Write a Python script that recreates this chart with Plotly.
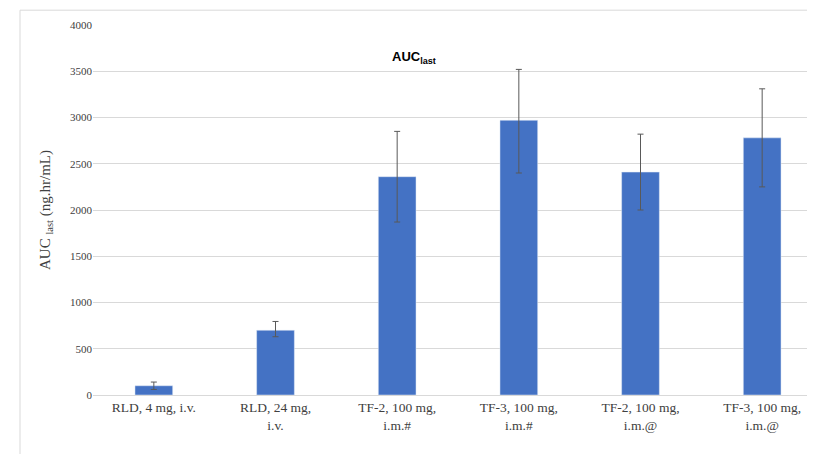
import plotly.graph_objects as go

groups = ["RLD, 4 mg, i.v.", "RLD, 24 mg,<br>i.v.", "TF-2, 100 mg,<br>i.m.#",
          "TF-3, 100 mg,<br>i.m.#", "TF-2, 100 mg,<br>i.m.@", "TF-3, 100 mg,<br>i.m.@"]
auc_last = [100, 700, 2360, 2970, 2410, 2780]
err_plus = [40, 95, 490, 550, 410, 530]
err_minus = [40, 70, 490, 570, 410, 530]

fig = go.Figure()
fig.add_trace(go.Bar(
    x=groups, y=auc_last, marker_color="#4472C4", width=0.31,
    error_y=dict(type="data", array=err_plus, arrayminus=err_minus,
                 color="#595959", thickness=1, width=3),
))
fig.update_layout(
    width=815, height=454, showlegend=False,
    paper_bgcolor="white", plot_bgcolor="white",
    margin=dict(l=85, r=0, t=17, b=67),
    font=dict(family="Liberation Serif", size=12, color="#404040"),
    annotations=[dict(text="<b>AUC<sub>last</sub></b>", x=0.44, y=0.94, xref="paper",
                      yref="paper", showarrow=False,
                      font=dict(family="Liberation Sans", size=13, color="black"))],
    shapes=[dict(type="rect", xref="paper", yref="paper", x0=-0.1, x1=1.0, y0=-0.17, y1=1.04,
                 line=dict(color="#D9D9D9", width=1))],
)
fig.update_yaxes(range=[0, 4000], dtick=500, gridcolor="#D9D9D9", zeroline=False,
                 tickfont=dict(size=11),
                 title=dict(text="AUC <sub>last</sub> (ng.hr/mL)", font=dict(size=15)))
fig.update_xaxes(showline=True, linecolor="#D9D9D9", tickfont=dict(size=13.5))
fig.write_html("out.html")
